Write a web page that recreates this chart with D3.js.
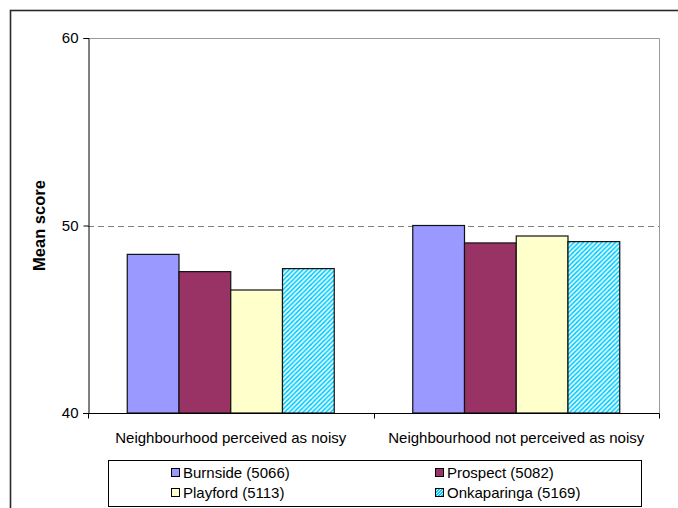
<!DOCTYPE html>
<html>
<head>
<meta charset="utf-8">
<script src="https://cdn.jsdelivr.net/npm/d3@7"></script>
<style>
  html, body { margin: 0; padding: 0; background: #fff; }
  svg { display: block; font-family: Arial, "Liberation Sans", sans-serif; }
</style>
</head>
<body>
<svg id="chart" width="678" height="508"></svg>
<script>
// Neighbourhood noise perception: mean score by council area
const categories = ["Neighbourhood perceived as noisy", "Neighbourhood not perceived as noisy"];
const seriesNames = ["Burnside (5066)", "Prospect (5082)", "Playford (5113)", "Onkaparinga (5169)"];
const burnside = [48.46, 50.0];
const prospect = [47.54, 49.07];
const playford = [46.56, 49.44];
const onkaparinga = [47.70, 49.14];
const yTicks = [40, 50, 60];

const seriesValues = [burnside, prospect, playford, onkaparinga];
const fills = ["#9999ff", "#993366", "#ffffcc", "url(#hatch)"];
const swatchFills = ["#9999ff", "#993366", "#ffffcc", "url(#hatchSmall)"];
const FONT = "Arial, 'Liberation Sans', sans-serif";
const FS = 15;

const svg = d3.select("#chart");
const defs = svg.append("defs");

// diagonal white stripes over cyan
function hatch(id, size) {
  const p = defs.append("pattern")
    .attr("id", id).attr("patternUnits", "userSpaceOnUse")
    .attr("width", size).attr("height", size);
  p.append("rect").attr("width", size).attr("height", size).attr("fill", "#00ccff");
  p.append("path")
    .attr("d", `M0,${size} L${size},0 M${-size / 2},${size / 2} L${size / 2},${-size / 2} M${size / 2},${size * 1.5} L${size * 1.5},${size / 2}`)
    .attr("stroke", "#ffffff").attr("stroke-width", size * 0.32);
}
hatch("hatch", 4.6);
hatch("hatchSmall", 3);

// outer frame
svg.append("rect")
  .attr("x", 10.5).attr("y", 10.5).attr("width", 700).attr("height", 520)
  .attr("fill", "none").attr("stroke", "#2a2a2a").attr("stroke-width", 1.6);

const plot = { left: 88, right: 659, top: 38, bottom: 413 };

const x = d3.scaleBand().domain(categories).range([plot.left, plot.right]);
const xs = d3.scaleBand().domain(seriesNames).range([0, x.bandwidth()])
  .paddingInner(0).paddingOuter(0.7586);
const y = d3.scaleLinear().domain([40, 60]).range([plot.bottom, plot.top]);

// plot area border (top and right)
svg.append("path")
  .attr("d", `M${plot.left},${plot.top + 0.5}H${plot.right + 0.5}V${plot.bottom}`)
  .attr("fill", "none").attr("stroke", "#9a9a9a").attr("stroke-width", 1);

// dashed reference line at 50
svg.append("line")
  .attr("x1", plot.left).attr("x2", plot.right)
  .attr("y1", Math.round(y(50)) + 0.5).attr("y2", Math.round(y(50)) + 0.5)
  .attr("stroke", "#808080").attr("stroke-dasharray", "6,4");

// bars
const groups = svg.append("g").selectAll("g")
  .data(seriesNames).join("g");
groups.each(function (name, si) {
  d3.select(this).selectAll("rect")
    .data(categories.map((c, ci) => ({ c, v: seriesValues[si][ci] })))
    .join("rect")
    .attr("x", d => x(d.c) + xs(name))
    .attr("y", d => y(d.v))
    .attr("width", xs.bandwidth())
    .attr("height", d => y(40) - y(d.v))
    .attr("fill", fills[si])
    .attr("stroke", "#111").attr("stroke-width", 1.2);
});

// y axis
const yAxis = svg.append("g")
  .attr("transform", `translate(${plot.left + 0.5},0)`)
  .call(d3.axisLeft(y).tickValues(yTicks).tickSize(5).tickPadding(5).tickFormat(d3.format("d")));
yAxis.select(".domain").attr("stroke", "#000");
yAxis.selectAll("text").attr("font-size", FS).attr("fill", "#000").attr("font-family", FONT);

// x axis with ticks at category boundaries
const xAxisG = svg.append("g").attr("transform", `translate(0,${plot.bottom + 0.5})`);
xAxisG.append("line").attr("x1", plot.left - 5).attr("x2", plot.right + 0.5)
  .attr("stroke", "#000");
const bounds = [plot.left, ...categories.map(c => x(c) + x.bandwidth())];
xAxisG.selectAll("line.tick").data(bounds).join("line")
  .attr("class", "tick")
  .attr("x1", d => Math.round(d) + 0.5).attr("x2", d => Math.round(d) + 0.5)
  .attr("y1", 0).attr("y2", 5).attr("stroke", "#000");
xAxisG.selectAll("text").data(categories).join("text")
  .attr("x", d => x(d) + x.bandwidth() / 2)
  .attr("y", 29.5)
  .attr("text-anchor", "middle")
  .attr("font-size", FS)
  .text(d => d);

// y axis title
svg.append("text")
  .attr("transform", `translate(44.5,${(plot.top + plot.bottom) / 2}) rotate(-90)`)
  .attr("text-anchor", "middle")
  .attr("font-size", 16.5).attr("font-weight", "bold")
  .text("Mean score");

// legend
const legend = svg.append("g");
legend.append("rect")
  .attr("x", 108.5).attr("y", 460.5).attr("width", 533).attr("height", 46)
  .attr("fill", "#fff").attr("stroke", "#000").attr("stroke-width", 1);
const legendPos = [
  { x: 171, y: 472 }, { x: 435, y: 472 },
  { x: 171, y: 492 }, { x: 435, y: 492 }
];
const items = legend.selectAll("g.item").data(seriesNames).join("g")
  .attr("class", "item")
  .attr("transform", (d, i) => `translate(${legendPos[i].x},${legendPos[i].y})`);
items.append("rect")
  .attr("x", 0.5).attr("y", -3.5).attr("width", 8).attr("height", 8)
  .attr("fill", (d, i) => swatchFills[i]).attr("stroke", "#000").attr("stroke-width", 1);
items.append("text")
  .attr("x", 12).attr("y", 5.5)
  .attr("font-size", FS)
  .text(d => d);
</script>
</body>
</html>
